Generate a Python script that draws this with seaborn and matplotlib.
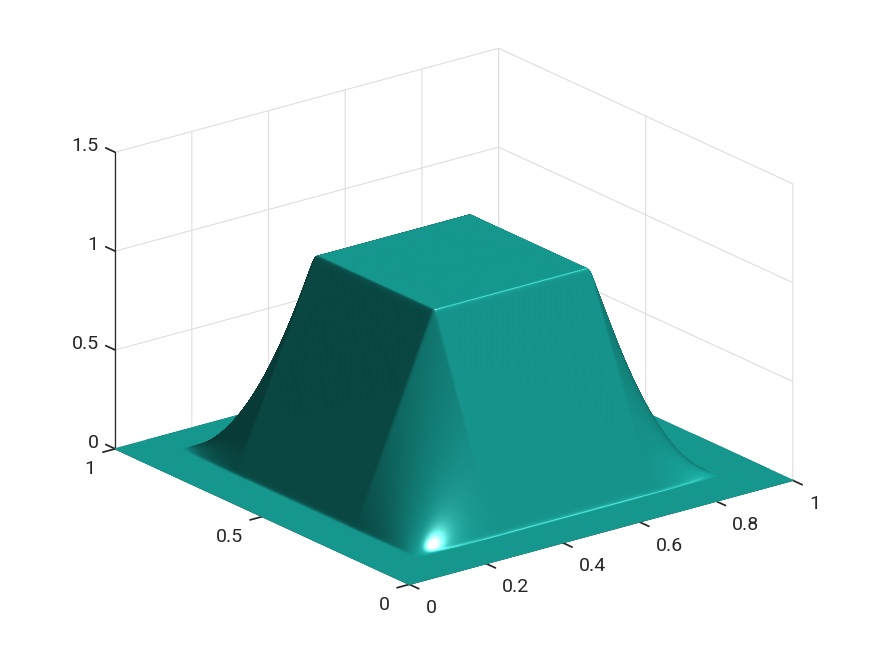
"""Plateau surface with MATLAB-like lighting, drawn on seaborn's white theme."""

import numpy as np
import matplotlib
matplotlib.use('Agg')
import matplotlib.pyplot as plt
import seaborn as sns

# height profile along each side
profile_x = [0.0, 0.105, 0.31, 0.715, 0.89, 1.0]
profile_y = [0.0, 0.11, 0.32, 0.725, 0.91, 1.0]
profile_z = [0.0, 0.0, 1.0, 1.0, 0.0, 0.0]

x_ticks = [0, 0.2, 0.4, 0.6, 0.8, 1]
y_ticks = [0, 0.5, 1]
z_ticks = [0, 0.5, 1, 1.5]
x_tick_labels = ['0', '0.2', '0.4', '0.6', '0.8', '1']
y_tick_labels = ['0', '0.5', '1']
z_tick_labels = ['0', '0.5', '1', '1.5']

base_color = np.array([22, 153, 144]) / 255
text_color = '#262626'
grid_color = '#dedede'

sns.set_theme(style='white')
plt.rcParams['font.family'] = ['Roboto', 'DejaVu Sans']


def rounded_profile(grid, knots):
    # small fillet at the foot and the top of the ramp
    fine = np.linspace(0, 1, 2001)
    g = np.interp(fine, knots, profile_z)
    kernel = np.ones(13) / 13
    for _ in range(2):
        g = np.convolve(g, kernel, mode='same')
    return np.interp(grid, fine, g)


def shade(X, Y, Z):
    dzdy, dzdx = np.gradient(Z, Y[:, 0], X[0, :])
    n = np.dstack([-dzdx, -dzdy, np.ones_like(Z)])
    n /= np.linalg.norm(n, axis=2, keepdims=True)
    light = np.array([0.05, -0.58, 0.76])
    half = np.array([-0.25, -0.75, 0.61])
    half = half / np.linalg.norm(half)
    diffuse = np.clip(n @ light, 0, None)
    facing = np.clip(n @ half, 0, None)
    spec = facing ** 60 + 0.2 * facing ** 25
    rgb = base_color * (0.38 + 0.8 * diffuse)[..., None] + spec[..., None]
    return np.clip(rgb, 0, 1)


grid = np.concatenate([
    np.linspace(0, 0.08, 5)[:-1], np.linspace(0.08, 0.34, 130)[:-1],
    np.linspace(0.34, 0.69, 10)[:-1], np.linspace(0.69, 0.93, 130)[:-1],
    np.linspace(0.93, 1, 5),
])
X, Y = np.meshgrid(grid, grid)
Z = np.outer(rounded_profile(grid, profile_y), rounded_profile(grid, profile_x))

fig = plt.figure(figsize=(8.75, 6.56), dpi=100)
ax = fig.add_axes([0.0087, 0.0043, 1, 1], projection='3d', proj_type='ortho')
ax.view_init(elev=20.7, azim=-127.5)
ax.set_box_aspect((1, 1, 0.656), zoom=1.115)

surf = ax.plot_surface(X, Y, Z, facecolors=shade(X, Y, Z), rstride=1, cstride=1,
                       shade=False, linewidth=0.9, antialiased=True)
surf.set_clip_on(False)

ax.set_xlim(0, 1)
ax.set_ylim(0, 1)
ax.set_zlim(0, 1.5)
ax.set_xticks(x_ticks, x_tick_labels)
ax.set_yticks(y_ticks, y_tick_labels)
ax.set_zticks(z_ticks, z_tick_labels)
ax.tick_params(labelsize=14, labelcolor=text_color, colors=text_color)
ax.tick_params(axis='x', pad=5.5)
ax.tick_params(axis='y', pad=4.5)
ax.tick_params(axis='z', pad=-2)

for axis in (ax.xaxis, ax.yaxis, ax.zaxis):
    axis.set_pane_color((1, 1, 1, 0))
    axis.pane.set_edgecolor(grid_color)
    axis.line.set_color(text_color)
    axis.line.set_linewidth(0.9)
    axis._axinfo['grid'].update(color=grid_color, linewidth=0.8)
    axis._axinfo['tick'].update(inward_factor=0.0, outward_factor=-0.4)

# MATLAB draws the z ticks along +y
ax.zaxis._get_tickdir = lambda pos=None: 1
ax.zaxis._axinfo['tick'].update(outward_factor=0.4)

for tick in ax.xaxis.get_major_ticks():
    tick.label1.set_ha('left')
    tick.label1.set_va('center')
for tick in ax.yaxis.get_major_ticks():
    tick.label1.set_ha('right')
    tick.label1.set_va('center')
for tick in ax.zaxis.get_major_ticks():
    tick.label1.set_ha('right')
    tick.label1.set_va('baseline')

fig.savefig('out.png', dpi=100)
